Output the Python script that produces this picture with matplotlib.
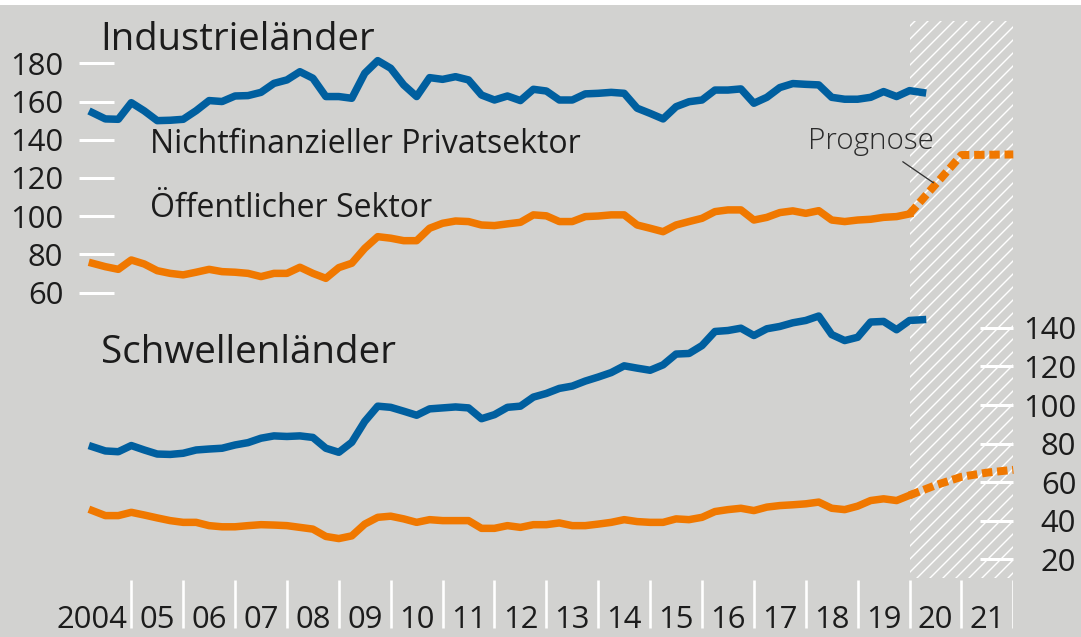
import numpy as np
import pandas as pd
import matplotlib
matplotlib.use('Agg')
import matplotlib.pyplot as plt
from matplotlib.patches import Rectangle

""" Figure size in pixels, dpi 78 so that the '//' hatch gets ~13 px spacing """
W, H, DPI = 1081, 637, 78

def px(v):
    """pixels -> points at this dpi"""
    return v * 72 / DPI

BG = '#d2d2d0'
BLUE = '#005f9f'
ORANGE = '#f07800'
TXT = '#1c1c1c'

plt.rcParams['font.family'] = ['Open Sans', 'DejaVu Sans']
plt.rcParams['hatch.linewidth'] = 1.3

""" Data: quarterly debt ratios in % of GDP, 2004Q1 - 2020Q1 """
quarters = pd.period_range('2004Q1', '2020Q1', freq='Q')
t_hist = np.asarray(quarters.year + quarters.quarter / 4, dtype=float)

ind_private = [154.2, 150.9, 150.7, 159.4, 155.1, 150.0, 150.2, 150.7, 155.2, 160.5,
               160.0, 162.9, 163.1, 164.8, 169.5, 171.3, 175.6, 172.2, 162.6, 162.6,
               161.7, 174.8, 181.4, 177.4, 168.7, 162.6, 172.5, 171.6, 173.0, 171.3,
               163.4, 160.8, 162.9, 160.5, 166.4, 165.5, 160.8, 160.8, 164.0, 164.3,
               164.8, 164.3, 156.5, 153.8, 150.9, 157.3, 159.9, 160.8, 166.0, 166.0,
               166.6, 159.1, 162.2, 167.3, 169.4, 169.0, 168.7, 162.2, 161.2, 161.2,
               162.2, 165.2, 162.6, 165.7, 164.7]
ind_public = [75.4, 73.6, 72.2, 77.1, 75.0, 71.5, 70.1, 69.3, 70.7, 72.2,
              71.0, 70.7, 70.1, 68.4, 70.1, 70.1, 73.3, 70.1, 67.5, 73.1,
              75.4, 83.2, 89.3, 88.5, 87.2, 87.2, 93.7, 96.3, 97.5, 97.2,
              95.4, 95.1, 96.0, 96.8, 100.7, 100.2, 97.2, 97.2, 99.8, 100.1,
              100.7, 100.7, 95.4, 93.7, 91.9, 95.4, 97.2, 98.9, 102.4, 103.3,
              103.3, 98.0, 99.4, 101.9, 102.8, 101.5, 102.9, 98.0, 97.2, 98.0,
              98.4, 99.4, 99.8, 101.2]
ind_public_fc_t = [2020.0, 2021.0, 2022.0]
ind_public_fc = [101.2, 132.0, 132.3]

em_private = [78.4, 76.2, 75.8, 79.0, 76.7, 74.6, 74.4, 75.0, 76.7, 77.2,
              77.6, 79.3, 80.5, 82.8, 84.0, 83.7, 84.0, 83.2, 77.6, 75.5,
              80.7, 91.5, 99.4, 98.8, 96.8, 94.7, 98.0, 98.5, 99.0, 98.5,
              92.9, 95.0, 98.8, 99.4, 104.1, 106.0, 108.6, 109.8, 112.4, 114.5,
              116.8, 120.3, 119.1, 118.0, 120.8, 126.4, 126.7, 130.8, 138.1, 138.6,
              139.8, 136.0, 139.5, 140.7, 142.6, 143.8, 146.1, 136.5, 133.4, 135.1,
              143.0, 143.3, 139.0, 143.8, 144.2]
em_public = [45.3, 42.7, 42.7, 44.4, 43.0, 41.5, 40.1, 39.2, 39.2, 37.5,
             36.9, 36.9, 37.5, 38.0, 37.8, 37.5, 36.6, 35.7, 31.9, 30.8,
             32.2, 38.3, 41.8, 42.4, 41.0, 39.2, 40.6, 40.1, 40.1, 40.1,
             36.1, 36.1, 37.5, 36.6, 38.0, 38.0, 38.9, 37.5, 37.5, 38.3,
             39.2, 40.6, 39.6, 39.2, 39.2, 41.0, 40.6, 41.8, 44.8, 45.8,
             46.5, 45.3, 47.1, 47.9, 48.3, 48.8, 49.7, 46.5, 45.8, 47.6,
             50.5, 51.4, 50.5, 53.2]
em_public_fc_t = [2020.0, 2020.5, 2021.0, 2021.5, 2022.0]
em_public_fc = [53.2, 58.4, 62.8, 65.0, 66.4]

ind_ticks = [60, 80, 100, 120, 140, 160, 180]
em_ticks = [20, 40, 60, 80, 100, 120, 140]
year_labels = ['2004', '05', '06', '07', '08', '09', '10', '11', '12',
               '13', '14', '15', '16', '17', '18', '19', '20', '21']
forecast_start, forecast_end = 2020, 2022

""" Figure and axes (positions in pixels) """
fig = plt.figure(figsize=(W / DPI, H / DPI), dpi=DPI, facecolor='white')
fig.add_artist(Rectangle((0, 0), 1, (H - 5) / H, transform=fig.transFigure,
                         facecolor=BG, edgecolor='none', zorder=-1))

x_left, x_right = 79.4, 1013.3
ax_w = (x_right - x_left) / W

ax_bg = fig.add_axes([x_left / W, 0, ax_w, 1])
ax_top = fig.add_axes([x_left / W, (H - 320) / H, ax_w, 315 / H])
ax_bot = fig.add_axes([x_left / W, 0, ax_w, 320 / H])

for ax in (ax_bg, ax_top, ax_bot):
    ax.set_facecolor('none')
    ax.set_xlim(2004, 2022)
    for s in ax.spines.values():
        s.set_visible(False)
    ax.tick_params(axis='x', bottom=False, labelbottom=False)

""" Background axes in pixel rows: hatch, year separators and labels """
ax_bg.set_ylim(H, 0)
ax_bg.set_yticks([])
ax_bg.fill_between([forecast_start, forecast_end], 21, 578, facecolor='none',
                   edgecolor='white', hatch='//', linewidth=0)
ax_bg.vlines(range(2005, 2023), 580, 628, color='white', linewidth=px(2.6))
for i, lab in enumerate(year_labels):
    year = 2004 + i
    if i == 0:
        ax_bg.text(year + 0.92, 628, lab, ha='right', va='baseline',
                   fontsize=px(31), color=TXT)
    else:
        ax_bg.text(year + 0.5, 628, lab, ha='center', va='baseline',
                   fontsize=px(31), color=TXT)

""" Industrieländer """
ax_top.set_ylim(45.7, 210.5)
ax_top.plot(t_hist, ind_private, color=BLUE, lw=px(7.5), solid_joinstyle='round', clip_on=False)
ax_top.plot(t_hist[:len(ind_public)], ind_public, color=ORANGE, lw=px(7.5),
            solid_joinstyle='round', clip_on=False)
ax_top.plot(ind_public_fc_t, ind_public_fc, color=ORANGE, lw=px(8),
            linestyle=(0, (1.3, 0.6)), dash_capstyle='butt', clip_on=False)
ax_top.set_yticks(ind_ticks)
ax_top.tick_params(axis='y', direction='in', length=px(34.6), width=px(3),
                   color='white', pad=px(16), labelsize=px(31), labelcolor=TXT)
ax_top.annotate('', xy=(2020.46, 117.5), xytext=(2019.87, 128.5),
                arrowprops=dict(arrowstyle='-', color='#333333', lw=px(1.3),
                                shrinkA=0, shrinkB=0), annotation_clip=False)

""" Schwellenländer """
ax_bot.set_ylim(-20.2, 145.6)
ax_bot.plot(t_hist, em_private, color=BLUE, lw=px(7.5), solid_joinstyle='round', clip_on=False)
ax_bot.plot(t_hist[:len(em_public)], em_public, color=ORANGE, lw=px(7.5),
            solid_joinstyle='round', clip_on=False)
ax_bot.plot(em_public_fc_t, em_public_fc, color=ORANGE, lw=px(8),
            linestyle=(0, (1.3, 0.6)), dash_capstyle='butt', clip_on=False)
ax_bot.yaxis.tick_right()
ax_bot.set_yticks(em_ticks)
ax_bot.tick_params(axis='y', direction='in', length=px(33), width=px(3),
                   color='white', pad=px(63), labelsize=px(31), labelcolor=TXT)
for lbl in ax_bot.get_yticklabels():
    lbl.set_horizontalalignment('right')

""" Texts """
def fig_text(x, y, s, size, **kw):
    fig.text(x / W, 1 - y / H, s, fontsize=px(size), va='baseline', color=kw.pop('color', TXT), **kw)

fig_text(100, 50, 'Industrieländer', 38.3)
fig_text(150, 153, 'Nichtfinanzieller Privatsektor', 32)
fig_text(150, 216.5, 'Öffentlicher Sektor', 32)
fig_text(100.5, 363, 'Schwellenländer', 38.6)
fig_text(808, 149, 'Prognose', 29.5, color='#2a2a2a', fontweight='light')

fig.savefig('out.png', dpi=DPI, facecolor=fig.get_facecolor())
